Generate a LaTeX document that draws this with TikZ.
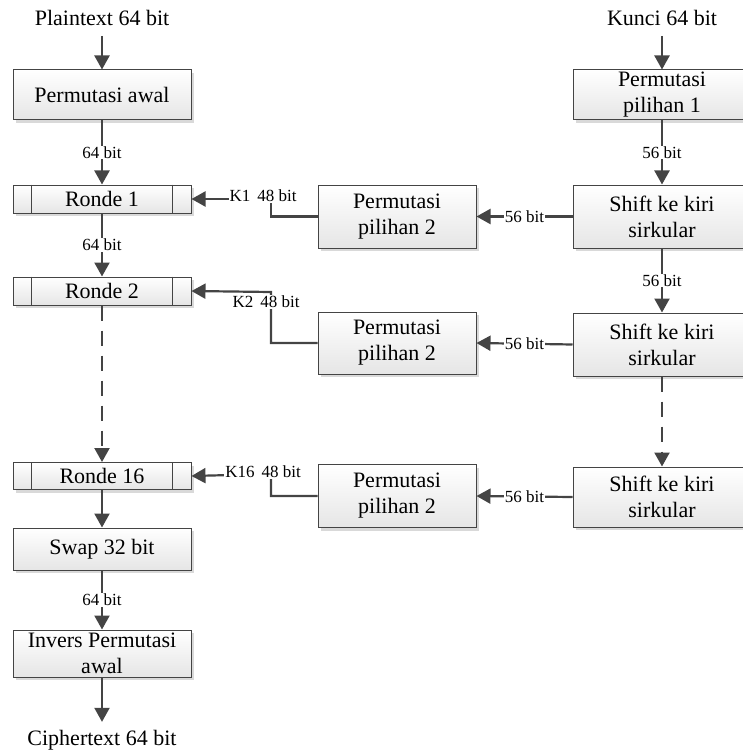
\documentclass[tikz,border=0pt]{standalone}
\usepackage{fontspec}
\setmainfont{Liberation Serif}
\usetikzlibrary{arrows.meta,shadows}
\definecolor{ln}{HTML}{444444}
\tikzset{
  box/.style={draw=ln, line width=1pt, top color=white, bottom color=black!10,
    drop shadow={shadow xshift=3pt, shadow yshift=-3pt, fill=black!25, opacity=0.6},
    align=center, inner sep=0pt, minimum width=178pt,
    font=\fontsize{22}{26}\selectfont},
  midbox/.style={box, minimum width=158pt},
  title/.style={font=\fontsize{22}{26}\selectfont, inner sep=0pt},
  lbl/.style={font=\fontsize{17}{20}\selectfont, fill=white, inner sep=1pt},
  conn/.style={draw=ln, line width=2.2pt},
  arr/.style={conn, -{Triangle[length=14pt,width=15pt]}},
  sep/.style={draw=ln, line width=1pt}
}
\begin{document}
\begin{tikzpicture}[x=1pt,y=-1pt]
\useasboundingbox (0,0) rectangle (743,754);
% left column
\node[title] (plain) at (102,18) {Plaintext 64 bit};
\node[box, minimum height=50pt] (pa) at (102,95) {Permutasi awal};
\node[box, minimum height=28pt] (r1) at (102,199) {Ronde 1};
\node[box, minimum height=28pt] (r2) at (102,291) {Ronde 2};
\node[box, minimum height=27pt] (r16) at (102,476) {Ronde 16};
\node[box, minimum height=42pt] (swap) at (102,549) {Swap 32 bit};
\node[box, minimum height=47pt] (inv) at (102,653.5) {Invers Permutasi\\awal};
\node[title] (cipher) at (102,740) {Ciphertext 64 bit};
\foreach \r in {r1,r2,r16}{
  \draw[sep] ([xshift=19pt]\r.north west) -- ([xshift=19pt]\r.south west);
  \draw[sep] ([xshift=-19pt]\r.north east) -- ([xshift=-19pt]\r.south east);
}
% right column
\node[title] (kunci) at (662,18) {Kunci 64 bit};
\node[box, minimum height=50pt] (pp1) at (662,95) {Permutasi\\pilihan 1};
\node[box, minimum height=63pt] (s1) at (662,216.5) {Shift ke kiri\\sirkular};
\node[box, minimum height=63pt] (s2) at (662,344.5) {Shift ke kiri\\sirkular};
\node[box, minimum height=60pt] (s3) at (662,497) {Shift ke kiri\\sirkular};
% middle column
\node[midbox, minimum height=63pt] (p2a) at (397,216.5) {Permutasi\\pilihan 2};
\node[midbox, minimum height=62pt] (p2b) at (397,343) {Permutasi\\pilihan 2};
\node[midbox, minimum height=63pt] (p2c) at (397,496) {Permutasi\\pilihan 2};
% left connectors
\draw[arr] ([yshift=-10pt]plain.south) -- (pa.north);
\draw[arr] (pa.south) -- node[lbl] {64 bit} (r1.north);
\draw[arr] (r1.south) -- node[lbl] {64 bit} (r2.north);
\draw[arr, dash pattern=on 15pt off 10pt] (r2.south) -- (r16.north);
\draw[arr] (r16.south) -- (swap.north);
\draw[arr] (swap.south) -- node[lbl] {64 bit} (inv.north);
\draw[arr] (inv.south) -- ([yshift=8pt]cipher.north);
% right connectors
\draw[arr] ([yshift=-10pt]kunci.south) -- (pp1.north);
\draw[arr] (pp1.south) -- node[lbl] {56 bit} (s1.north);
\draw[arr] (s1.south) -- node[lbl] {56 bit} (s2.north);
\draw[arr, dash pattern=on 15pt off 10pt] (s2.south) -- (s3.north);
% shift -> permutasi pilihan 2
\draw[arr] (s1.west) -- node[lbl] {56 bit} (p2a.east);
\draw[arr] (s2.west) -- node[lbl] {56 bit} (p2b.east);
\draw[arr] (s3.west) -- node[lbl] {56 bit} (p2c.east);
% permutasi pilihan 2 -> ronde
\draw[arr] (p2a.west) -- (271,216.5) -- (271,199) -- (r1.east);
\node[lbl] (k1) at (263,196) {K1\hspace{7pt}48 bit};
\draw[arr] (p2b.west) -- (271,343) -- (271,292) -- (r2.east);
\node[lbl] (k2) at (266,302) {K2\hspace{7pt}48 bit};
\draw[arr] (p2c.west) -- (271,496) -- (271,474) -- (r16.east);
\node[lbl] (k16) at (263,472) {K16\hspace{7pt}48 bit};
\end{tikzpicture}
\end{document}
